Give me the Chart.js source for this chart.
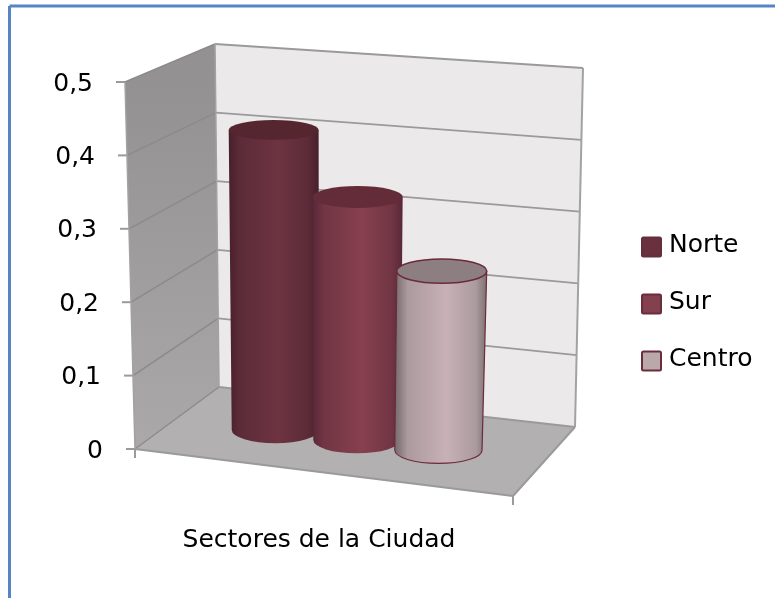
<!DOCTYPE html>
<html>
<head>
<meta charset="utf-8">
<title>Sectores de la Ciudad</title>
<script src="https://cdn.jsdelivr.net/npm/chart.js@4"></script>
<style>
    html, body { margin: 0; padding: 0; background: #fff; }
    #wrap { position: relative; width: 775px; height: 598px; overflow: hidden; }
</style>
</head>
<body>
<div id="wrap"><canvas id="grafico"></canvas></div>
<script>
// --- Datos ---
const categorias = ['Sectores de la Ciudad'];
const norte = [0.42];
const sur = [0.34];
const centro = [0.25];
const ticksEjeY = [0, 0.1, 0.2, 0.3, 0.4, 0.5];

// --- Colores ---
const colorLeyenda = ['#6a303e', '#84404f', '#baa8ab'];
const colorBordeLeyenda = ['#632f3d', '#6a2d3d', '#6a2d3d'];
const cilindros = [
    { borde: '#47202b', lado: '#5c2b38', medio: '#6d3341', tapa: '#552630', linea: null },
    { borde: '#57283a', lado: '#713543', medio: '#87404f', tapa: '#642c38', linea: null },
    { borde: '#7c7173', lado: '#ab9a9e', medio: '#c7b1b6', tapa: '#8d7f81', linea: '#6c2a3c' }
];

// Caja 3D alrededor del eje (perspectiva del gráfico original)
const caja = {
    frenteIzq: [135, 125],     // x de la arista frontal izquierda en 0 y en 0,5
    fondoIzqX: [219, 215],
    fondoIzqY: [387, 44],
    fondoDerX: [575, 583],
    fondoDerY: [427, 68],
    frenteDer: [513, 496]
};
const despProfundidad = 33.7;  // los cilindros están a media profundidad
const escalaProfundidad = 0.97;
const fuente = '25px "DejaVu Sans"';

function lerp(a, t) {
    return a[0] + (a[1] - a[0]) * t;
}

function poligono(ctx, puntos, relleno) {
    ctx.beginPath();
    puntos.forEach((p, i) => i ? ctx.lineTo(p[0], p[1]) : ctx.moveTo(p[0], p[1]));
    ctx.closePath();
    ctx.fillStyle = relleno;
    ctx.fill();
}

function linea(ctx, a, b, color, ancho) {
    ctx.beginPath();
    ctx.moveTo(a[0], a[1]);
    ctx.lineTo(b[0], b[1]);
    ctx.strokeStyle = color;
    ctx.lineWidth = ancho;
    ctx.stroke();
}

function dibujarCaja(chart) {
    const ctx = chart.ctx;
    const y = chart.scales.y;
    const dec = v => (v - y.min) / (y.max - y.min);
    const frente = v => [lerp(caja.frenteIzq, dec(v)), y.getPixelForValue(v)];
    const fondoI = v => [lerp(caja.fondoIzqX, dec(v)), lerp(caja.fondoIzqY, dec(v))];
    const fondoD = v => [lerp(caja.fondoDerX, dec(v)), lerp(caja.fondoDerY, dec(v))];
    const min = y.min;
    const max = y.max;

    // pared de fondo
    poligono(ctx, [fondoI(min), fondoI(max), fondoD(max), fondoD(min)], '#ece9ea');

    // pared izquierda
    const grad = ctx.createLinearGradient(0, y.top, 0, y.bottom);
    grad.addColorStop(0, '#939191');
    grad.addColorStop(1, '#aaa8a8');
    poligono(ctx, [frente(min), frente(max), fondoI(max), fondoI(min)], grad);

    // suelo
    poligono(ctx, [frente(min), caja.frenteDer, fondoD(min), fondoI(min)], '#b2b0b1');

    // líneas de división y marcas del eje
    y.ticks.forEach(t => {
        linea(ctx, frente(t.value), fondoI(t.value), '#8b8b8b', 1.5);
        linea(ctx, fondoI(t.value), fondoD(t.value), '#9a9a9a', 1.8);
        const f = frente(t.value);
        linea(ctx, [f[0] - 9, f[1]], f, '#9a9a9a', 2);
    });
    linea(ctx, frente(min), frente(max), '#a2a2a2', 1.5);
    linea(ctx, fondoI(min), fondoI(max), '#a2a2a2', 1.5);
    linea(ctx, fondoD(min), fondoD(max), '#a2a2a2', 2);
    linea(ctx, frente(min), caja.frenteDer, '#9a9a9a', 2);
    linea(ctx, caja.frenteDer, fondoD(min), '#9a9a9a', 2);
    linea(ctx, frente(min), [frente(min)[0], frente(min)[1] + 9], '#9a9a9a', 2);
    linea(ctx, caja.frenteDer, [caja.frenteDer[0], caja.frenteDer[1] + 9], '#9a9a9a', 2);

    // etiquetas del eje Y, siguen la arista inclinada
    ctx.fillStyle = '#000';
    ctx.font = fuente;
    ctx.textAlign = 'right';
    ctx.textBaseline = 'middle';
    y.ticks.forEach(t => {
        const f = frente(t.value);
        ctx.fillText(t.label, f[0] - 32, f[1] + 2);
    });
}

function dibujarCilindro(chart, i) {
    const ctx = chart.ctx;
    const barra = chart.getDatasetMeta(i).data[0];
    const estilo = cilindros[i];
    const cx = barra.x + despProfundidad;
    const anchoSup = barra.width * 1.07;
    const fuga = x => 330 + (x - 330) * escalaProfundidad;

    const yBase = 430 + 0.12 * (cx - 274);
    const yTop = yBase - (barra.base - barra.y) * escalaProfundidad - 1;
    const radioY = yy => Math.min(13.2, 7.8 + 0.016 * yy);

    const xi = cx - anchoSup / 2, xd = cx + anchoSup / 2;
    const xiB = fuga(xi), xdB = fuga(xd);
    const cxB = (xiB + xdB) / 2;

    const grad = ctx.createLinearGradient(xi, 0, xd, 0);
    grad.addColorStop(0, estilo.borde);
    grad.addColorStop(0.12, estilo.lado);
    grad.addColorStop(0.55, estilo.medio);
    grad.addColorStop(0.88, estilo.lado);
    grad.addColorStop(1, estilo.borde);

    ctx.beginPath();
    ctx.moveTo(xi, yTop);
    ctx.lineTo(xiB, yBase);
    ctx.ellipse(cxB, yBase, (xdB - xiB) / 2, radioY(yBase), 0, Math.PI, 0, true);
    ctx.lineTo(xd, yTop);
    ctx.closePath();
    ctx.fillStyle = grad;
    ctx.fill();
    if (estilo.linea) {
        ctx.strokeStyle = estilo.linea;
        ctx.lineWidth = 1.2;
        ctx.stroke();
    }

    ctx.beginPath();
    ctx.ellipse(cx, yTop, anchoSup / 2, radioY(yTop), 0, 0, Math.PI * 2);
    ctx.fillStyle = estilo.tapa;
    ctx.fill();
    if (estilo.linea) {
        ctx.strokeStyle = estilo.linea;
        ctx.lineWidth = 1.5;
        ctx.stroke();
    }
}

// La leyenda nativa fija el hueco caja-texto al tamaño de letra; aquí va a 7px como en el original
function dibujarLeyenda(chart) {
    const ctx = chart.ctx;
    ctx.font = fuente;
    ctx.textAlign = 'left';
    ctx.textBaseline = 'middle';
    chart.data.datasets.forEach((d, i) => {
        const yy = 247 + i * 57;
        ctx.beginPath();
        ctx.roundRect(642, yy - 9.5, 19, 19, 1.5);
        ctx.fillStyle = d.backgroundColor;
        ctx.fill();
        ctx.strokeStyle = d.borderColor;
        ctx.lineWidth = 2;
        ctx.stroke();
        ctx.fillStyle = '#000';
        ctx.fillText(d.label, 669, yy - 2);
    });
}

const pluginCilindros = {
    id: 'cilindros3d',
    beforeDraw(chart) {
        const ctx = chart.ctx;
        ctx.save();
        // marco azul: sólo arriba y a la izquierda
        linea(ctx, [9.5, 6], [775, 6], '#5585c4', 3);
        linea(ctx, [9.5, 6], [9.5, 598], '#5585c4', 3);
        dibujarCaja(chart);
        ctx.restore();
    },
    beforeDatasetsDraw(chart) {
        chart.ctx.save();
        chart.data.datasets.forEach((d, i) => dibujarCilindro(chart, i));
        dibujarLeyenda(chart);
        chart.ctx.restore();
    },
    // los cilindros sustituyen a la barra plana
    beforeDatasetDraw() {
        return false;
    }
};

function serie(label, data, i) {
    return {
        label,
        data,
        backgroundColor: colorLeyenda[i],
        borderColor: colorBordeLeyenda[i],
        borderWidth: 2,
        barPercentage: 1,
        categoryPercentage: 0.667
    };
}

new Chart(document.getElementById('grafico'), {
    type: 'bar',
    data: {
        labels: categorias,
        datasets: [serie('Norte', norte, 0), serie('Sur', sur, 1), serie('Centro', centro, 2)]
    },
    options: {
        responsive: true,
        maintainAspectRatio: false,
        animation: false,
        layout: { padding: { top: 82, right: 262, bottom: 0, left: 0 } },
        plugins: {
            tooltip: { enabled: false },
            legend: { display: false }
        },
        scales: {
            x: {
                grid: { display: false, drawTicks: false },
                border: { display: false },
                ticks: {
                    color: '#000',
                    font: { family: '"DejaVu Sans"', size: 25 },
                    padding: 76,
                    labelOffset: -5,
                    maxRotation: 0,
                    autoSkip: false
                },
                afterFit: s => { s.height = 149; }
            },
            y: {
                min: 0,
                max: 0.5,
                grid: { display: false },
                border: { display: false },
                ticks: {
                    display: false,
                    stepSize: 0.1,
                    callback: v => String(Math.round(v * 10) / 10).replace('.', ',')
                },
                afterBuildTicks: s => { s.ticks = ticksEjeY.map(value => ({ value })); },
                afterFit: s => { s.width = 135; }
            }
        }
    },
    plugins: [pluginCilindros]
});
</script>
</body>
</html>
